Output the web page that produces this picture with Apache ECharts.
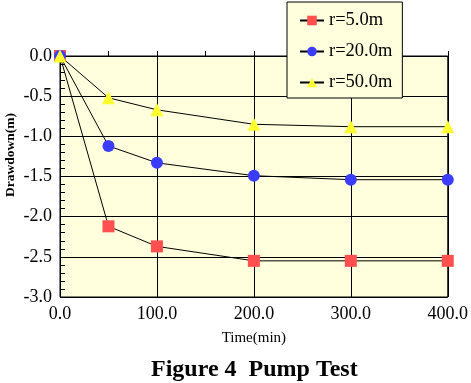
<!DOCTYPE html>
<html><head><meta charset="utf-8">
<script src="https://cdn.jsdelivr.net/npm/echarts@6/dist/echarts.min.js"></script>
<style>html,body{margin:0;padding:0;background:#fff}#c{width:471px;height:383px}</style>
</head><body><div id="c"></div>
<script>
const times = [0, 50, 100, 200, 300, 400];
const seriesNames = ['r=5.0m', 'r=20.0m', 'r=50.0m'];
const r5 = [0, -2.12, -2.37, -2.55, -2.55, -2.55];
const r20 = [0, -1.12, -1.33, -1.49, -1.54, -1.54];
const r50 = [0, -0.52, -0.67, -0.85, -0.88, -0.88];
const titleText = 'Figure 4  Pump Test';
const xName = 'Time(min)';
const yName = 'Drawdown(m)';

const serif = '"Liberation Serif", "DejaVu Serif", serif';
const chart = echarts.init(document.getElementById('c'));
function pts(vals){ return times.map((t,i)=>[t, vals[i]]); }
const mk = [
  {sym:'rect', size:12, color:'#ff4f4f'},
  {sym:'circle', size:12, color:'#3c3cff'},
  {sym:'triangle', size:13, color:'#ffff30'}
];
const vals = [r5, r20, r50];
chart.setOption({
  animation:false,
  title:{text:titleText, left:146, top:353,
    textStyle:{fontFamily:serif, fontSize:24, fontWeight:'bold', color:'#000'}},
  grid:{left:60, top:56, width:390, height:241, show:true, backgroundColor:'#ffffdd', borderColor:'#000', borderWidth:1},
  legend:{orient:'vertical', left:287, top:2, width:121,
    backgroundColor:'#ffffdd', borderColor:'#000', borderWidth:1,
    padding:[9,10,6,12], itemGap:12, itemWidth:24, itemHeight:12,
    textStyle:{fontFamily:serif, fontSize:18.5, color:'#000'},
    data: seriesNames},
  graphic:[{type:'text', x:11, y:155, rotation:Math.PI/2,
    style:{text:yName, fontFamily:serif, fontSize:13.5, fontWeight:'bold', fill:'#000', align:'center', verticalAlign:'middle'}}],
  xAxis:{type:'value', min:0, max:400, interval:100,
    name:xName, nameLocation:'middle', nameGap:34,
    nameTextStyle:{fontFamily:serif, fontSize:15, color:'#000'},
    axisLine:{lineStyle:{color:'#000'}},
    axisTick:{show:true, inside:true, length:5, lineStyle:{color:'#000'}},
    minorTick:{show:true, splitNumber:2, length:5, lineStyle:{color:'#000'}},
    splitLine:{show:true, lineStyle:{color:'#000', width:1}},
    axisLabel:{fontFamily:serif, fontSize:18, color:'#000', margin:8, formatter:v=>v.toFixed(1)}},
  yAxis:{type:'value', min:-3, max:0, interval:0.5,
    axisLine:{lineStyle:{color:'#000'}},
    axisTick:{show:true, inside:true, length:5, lineStyle:{color:'#000'}},
    minorTick:{show:true, splitNumber:5, length:5, lineStyle:{color:'#000'}},
    splitLine:{show:true, lineStyle:{color:'#000', width:1}},
    axisLabel:{fontFamily:serif, fontSize:18, color:'#000', margin:8, formatter:v=>v.toFixed(1)}},
  series: seriesNames.map((n,i)=>({
    name:n, type:'line', data:pts(vals[i]), symbol:mk[i].sym, symbolSize:mk[i].size,
    showAllSymbol:true, clip:false,
    lineStyle:{color:'#000', width:1},
    itemStyle:{color:mk[i].color, borderWidth:0},
    emphasis:{disabled:true}, z:2+i
  }))
});
</script></body></html>
